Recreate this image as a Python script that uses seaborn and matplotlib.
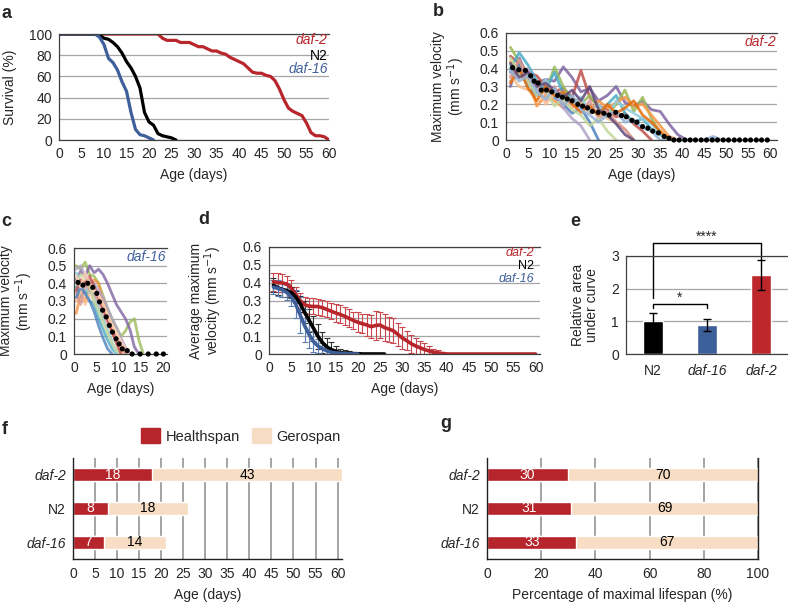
import matplotlib
matplotlib.use("Agg")
import matplotlib.pyplot as plt
import matplotlib.ticker as mt
from matplotlib.patches import Patch
import seaborn as sns

sns.set_style("white")
plt.rcParams["font.family"] = ["Liberation Sans", "DejaVu Sans"]
plt.rcParams["font.size"] = 10

W, H = 788, 604
RED = "#B8262C"
BLUE = "#3F5F9B"
BEIGE = "#F7DDC4"
GRID = "#A6A6A6"
DARK = "#404040"

# a: survival (%), one value per day
surv_days = list(range(61))
surv_daf2 = [100, 100, 100, 100, 100, 100, 100, 100, 100, 100,
             100, 100, 100, 100, 100, 100, 100, 100, 100, 100,
             100, 100, 100, 96, 94, 94, 94, 92, 92, 92,
             90, 88, 88, 86, 84, 84, 82, 81, 78, 76,
             74, 72, 68, 64, 63, 63, 61, 60, 56, 48,
             38, 30, 27, 25, 23, 16, 7, 4, 4, 3, 0]
surv_n2 = [100, 100, 100, 100, 100, 100, 100, 100, 100, 99,
           96, 95, 92, 88, 82, 74, 68, 60, 49, 26,
           17, 14, 6, 4, 3, 2, 0]
surv_daf16 = [100, 100, 100, 100, 100, 100, 100, 100, 100, 97,
              90, 77, 73, 66, 55, 46, 26, 10, 5, 4, 2, 0]

# b: daf-2 individual worms (every 2 days from day 1) and population mean
b_days = [1, 3, 5, 7, 9, 11, 13, 15, 17, 19, 21, 23, 25, 27, 29,
          31, 33, 35, 37, 39, 41, 43, 45, 47, 49]
b_traces = [
    [0.30, 0.46, 0.35, 0.32, 0.34, 0.33, 0.41, 0.35, 0.27, 0.29, 0.22, 0.25, 0.30, 0.21, 0.19, 0.22, 0.17, 0.16, 0.09, 0.03, 0.0],
    [0.47, 0.43, 0.38, 0.36, 0.30, 0.27, 0.29, 0.24, 0.39, 0.24, 0.19, 0.17, 0.13, 0.15, 0.09, 0.05, 0.0],
    [0.52, 0.44, 0.36, 0.30, 0.27, 0.41, 0.30, 0.22, 0.20, 0.25, 0.18, 0.14, 0.20, 0.28, 0.16, 0.24, 0.12, 0.04, 0.0],
    [0.40, 0.49, 0.42, 0.33, 0.28, 0.38, 0.26, 0.24, 0.20, 0.18, 0.14, 0.20, 0.25, 0.15, 0.10, 0.12, 0.06, 0.03, 0.0],
    [0.44, 0.40, 0.34, 0.19, 0.25, 0.22, 0.18, 0.24, 0.20, 0.16, 0.22, 0.18, 0.21, 0.24, 0.19, 0.20, 0.14, 0.08, 0.02, 0.0],
    [0.38, 0.42, 0.30, 0.25, 0.30, 0.24, 0.20, 0.15, 0.18, 0.10, 0.0],
    [0.33, 0.36, 0.40, 0.28, 0.22, 0.26, 0.18, 0.12, 0.08, 0.0],
    [0.36, 0.30, 0.28, 0.33, 0.20, 0.26, 0.22, 0.18, 0.21, 0.15, 0.17, 0.12, 0.10, 0.06, 0.0],
    [0.42, 0.38, 0.31, 0.28, 0.34, 0.26, 0.22, 0.20, 0.24, 0.16, 0.20, 0.13, 0.22, 0.18, 0.15, 0.12, 0.09, 0.04, 0.0],
    [0.35, 0.45, 0.33, 0.30, 0.26, 0.30, 0.20, 0.21, 0.15, 0.22, 0.12, 0.16, 0.10, 0.06, 0.0],
    [0.46, 0.37, 0.33, 0.25, 0.28, 0.19, 0.23, 0.17, 0.14, 0.08, 0.12, 0.05, 0.0],
    [0.32, 0.40, 0.29, 0.22, 0.30, 0.25, 0.27, 0.20, 0.16, 0.19, 0.14, 0.20, 0.15, 0.18, 0.22, 0.14, 0.10, 0.05, 0.0],
    [0.43, 0.35, 0.38, 0.30, 0.32, 0.28, 0.24, 0.28, 0.22, 0.30, 0.17, 0.14, 0.09, 0.03, 0.0],
    [0.39, 0.33, 0.36, 0.27, 0.23, 0.29, 0.19, 0.25, 0.17, 0.14, 0.10, 0.14, 0.16, 0.10, 0.11, 0.07, 0.05, 0.0, 0.0, 0.0, 0.0, 0.0, 0.0, 0.02, 0.0],
]
worm_colors = ["#8064A2", "#C0504D", "#9BBB59", "#4BACC6", "#F79646", "#4F81BD", "#B3A2C7",
               "#FAC090", "#93CDDD", "#D99694", "#C3D69B", "#E46C0A", "#604A7B", "#95B3D7"]
b_mean_day = [1.5, 2.9, 4.4, 5.6, 6.4, 7.3, 8.0, 9.2, 10.4, 11.7, 12.8, 13.9, 15.0, 16.3, 17.4,
              18.5, 19.6, 20.9, 22.2, 23.4, 24.9, 26.2, 27.3, 28.6, 29.7, 31.0, 32.2, 33.3, 34.6,
              35.9, 37.0, 38.1, 39.3, 40.6, 41.8, 43.0, 44.3, 45.5, 46.8, 48.0, 49.3, 50.5, 51.8,
              53.0, 54.3, 55.5, 56.8, 58.0, 59.3]
b_mean_vel = [0.406, 0.394, 0.39, 0.36, 0.33, 0.32, 0.28, 0.28, 0.27, 0.25, 0.24, 0.23, 0.22, 0.20, 0.19,
              0.18, 0.16, 0.155, 0.15, 0.14, 0.155, 0.137, 0.13, 0.11, 0.10, 0.075, 0.066, 0.05, 0.04,
              0.02, 0.01, 0.0, 0.0, 0.0, 0.0, 0.0, 0.0, 0.0, 0.0, 0.0, 0.0, 0.0, 0.0,
              0.0, 0.0, 0.0, 0.0, 0.0, 0.0]

# c: daf-16 individual worms (daily) and population mean
c_days = [0.5, 1.5, 2.5, 3.5, 4.5, 5.5, 6.5, 7.5, 8.5, 9.5, 10.5, 11.5, 12.5, 13.5, 14.5, 15.5]
c_traces = [
    [0.50, 0.48, 0.52, 0.45, 0.44, 0.40, 0.33, 0.26, 0.20, 0.15, 0.10, 0.13, 0.18, 0.20, 0.08, 0.0],
    [0.42, 0.47, 0.44, 0.50, 0.46, 0.48, 0.45, 0.40, 0.34, 0.28, 0.24, 0.20, 0.14, 0.04, 0.0],
    [0.23, 0.34, 0.30, 0.38, 0.42, 0.40, 0.30, 0.22, 0.16, 0.10, 0.05, 0.0],
    [0.38, 0.33, 0.36, 0.30, 0.28, 0.20, 0.14, 0.08, 0.03, 0.0],
    [0.30, 0.36, 0.28, 0.35, 0.30, 0.26, 0.22, 0.18, 0.12, 0.08, 0.02, 0.0],
    [0.46, 0.40, 0.38, 0.35, 0.33, 0.26, 0.20, 0.14, 0.07, 0.0],
    [0.35, 0.28, 0.40, 0.36, 0.34, 0.30, 0.24, 0.18, 0.14, 0.10, 0.06, 0.0],
    [0.48, 0.50, 0.44, 0.42, 0.40, 0.36, 0.32, 0.26, 0.20, 0.15, 0.09, 0.04, 0.0],
    [0.32, 0.38, 0.34, 0.30, 0.24, 0.16, 0.09, 0.03, 0.0],
    [0.40, 0.45, 0.42, 0.38, 0.30, 0.24, 0.18, 0.12, 0.06, 0.02, 0.0],
    [0.36, 0.42, 0.40, 0.44, 0.38, 0.32, 0.26, 0.20, 0.13, 0.06, 0.0],
    [0.44, 0.38, 0.46, 0.40, 0.36, 0.33, 0.28, 0.22, 0.16, 0.12, 0.07, 0.03, 0.0],
]
c_colors = ["#9BBB59", "#8064A2", "#F79646", "#4BACC6", "#FAC090", "#93CDDD",
            "#D99694", "#B3A2C7", "#4F81BD", "#C3D69B", "#C0504D", "#FCD5B5"]
c_mean_day = [0.9, 2.0, 3.1, 4.2, 5.1, 5.7, 6.4, 7.2, 7.9, 8.6, 9.4, 10.1, 10.8, 11.9,
              13.0, 14.8, 16.6, 18.4, 20.0]
c_mean_vel = [0.405, 0.39, 0.40, 0.377, 0.343, 0.295, 0.248, 0.21, 0.162, 0.124, 0.086,
              0.057, 0.029, 0.019, 0.0, 0.0, 0.0, 0.0, 0.0]

# d: average maximum velocity +/- error, daily
d_days = list(range(1, 61))
d_daf2 = [0.405, 0.40, 0.398, 0.393, 0.37, 0.335, 0.30, 0.277, 0.268, 0.267,
          0.266, 0.26, 0.25, 0.24, 0.23, 0.222, 0.212, 0.20, 0.188, 0.178,
          0.17, 0.163, 0.153, 0.16, 0.163, 0.148, 0.14, 0.13, 0.11, 0.09,
          0.075, 0.058, 0.045, 0.035, 0.025, 0.017, 0.01, 0.006, 0.003, 0.0,
          0.0, 0.0, 0.0, 0.0, 0.0, 0.0, 0.0, 0.0, 0.0, 0.0,
          0.0, 0.0, 0.0, 0.0, 0.0, 0.0, 0.0, 0.0, 0.0, 0.0]
d_daf2_err = [0.05, 0.055, 0.05, 0.045, 0.045, 0.04, 0.04, 0.045, 0.045, 0.045,
              0.045, 0.045, 0.045, 0.045, 0.05, 0.05, 0.05, 0.05, 0.05, 0.055,
              0.055, 0.06, 0.065, 0.08, 0.075, 0.075, 0.07, 0.07, 0.065, 0.06,
              0.055, 0.05, 0.045, 0.04, 0.035, 0.03, 0.02, 0.015, 0.01, 0.005]
d_n2 = [0.385, 0.372, 0.362, 0.356, 0.345, 0.32, 0.283, 0.235, 0.19, 0.145,
        0.10, 0.065, 0.04, 0.025, 0.015, 0.008, 0.005, 0.003, 0.002, 0.001,
        0.0, 0.0, 0.0, 0.0, 0.0, 0.0]
d_n2_err = [0.04, 0.04, 0.04, 0.035, 0.03, 0.035, 0.045, 0.06, 0.065, 0.07,
            0.07, 0.06, 0.05, 0.04, 0.03, 0.02, 0.015, 0.012, 0.01, 0.008,
            0.005, 0.004, 0.003]
d_daf16 = [0.375, 0.368, 0.36, 0.345, 0.32, 0.28, 0.22, 0.16, 0.11, 0.07,
           0.045, 0.03, 0.018, 0.01, 0.006, 0.004, 0.002, 0.001, 0.0, 0.0]
d_daf16_err = [0.04, 0.045, 0.04, 0.04, 0.05, 0.08, 0.10, 0.09, 0.075, 0.06,
               0.04, 0.03, 0.02, 0.015, 0.01, 0.008, 0.005, 0.004]

# e: relative area under curve
e_geno = ["N2", "daf-16", "daf-2"]
e_auc = [1.0, 0.89, 2.42]
e_err = [0.25, 0.18, 0.45]

# f, g: healthspan / gerospan
fg_geno = ["daf-2", "N2", "daf-16"]
f_health = [18, 8, 7]
f_gero = [43, 18, 14]
g_health = [30, 31, 33]
g_gero = [70, 69, 67]


def rect(l, t, r, b):
    return [l / W, 1 - b / H, (r - l) / W, (b - t) / H]


def vel_fmt(v, pos):
    return "0" if abs(v) < 1e-9 else f"{v:.1f}"


def excel_axes(ax, xmax, ymax, ystep, fmt=None):
    ax.set_xlim(0, xmax)
    ax.set_ylim(0, ymax)
    ax.xaxis.set_major_locator(mt.MultipleLocator(5))
    ax.xaxis.set_minor_locator(mt.MultipleLocator(1))
    ax.yaxis.set_major_locator(mt.MultipleLocator(ystep))
    if fmt is not None:
        ax.yaxis.set_major_formatter(mt.FuncFormatter(fmt))
    ax.grid(axis="y", color=GRID, lw=0.9)
    ax.set_axisbelow(True)
    ax.spines["right"].set_visible(False)
    for s in ("top", "left", "bottom"):
        ax.spines[s].set_color(DARK)
        ax.spines[s].set_linewidth(0.9)
    ax.tick_params(which="both", direction="out", length=3, width=0.8,
                   pad=2, labelsize=10, color=DARK)
    ax.set_xlabel("Age (days)", fontsize=10, labelpad=5)


fig = plt.figure(figsize=(W / 100, H / 100), dpi=100)

# ---------------- a
ax = fig.add_axes(rect(59, 34, 329, 140))
sns.lineplot(x=surv_days[:len(surv_daf2)], y=surv_daf2, color=RED, lw=2.3, ax=ax)
sns.lineplot(x=surv_days[:len(surv_n2)], y=surv_n2, color="black", lw=2.3, ax=ax)
sns.lineplot(x=surv_days[:len(surv_daf16)], y=surv_daf16, color=BLUE, lw=2.3, ax=ax)
excel_axes(ax, 60, 100, 20)
ax.set_ylabel("Survival (%)", fontsize=10)
ax.yaxis.set_label_coords(-0.155, 0.5)
ax.text(0.995, 0.945, "daf-2", transform=ax.transAxes, ha="right", va="center", color=RED, style="italic")
ax.text(0.995, 0.795, "N2", transform=ax.transAxes, ha="right", va="center", color="black")
ax.text(0.995, 0.67, "daf-16", transform=ax.transAxes, ha="right", va="center", color=BLUE, style="italic")

# ---------------- b
ax = fig.add_axes(rect(506, 33, 777, 140))
for tr, col in zip(b_traces, worm_colors):
    sns.lineplot(x=b_days[:len(tr)], y=tr, color=col, lw=2.0, alpha=0.85, ax=ax)
sns.scatterplot(x=b_mean_day, y=b_mean_vel, color="black", s=14, edgecolor="none", ax=ax, clip_on=False, zorder=5)
excel_axes(ax, 61.5, 0.6, 0.1, vel_fmt)
ax.set_ylabel("Maximum velocity\n(mm s$^{-1}$)", fontsize=10, linespacing=1.0)
ax.yaxis.set_label_coords(-0.145, 0.5)
ax.text(0.998, 0.916, "daf-2", transform=ax.transAxes, ha="right", va="center", color=RED, style="italic")

# ---------------- c
ax = fig.add_axes(rect(74, 248, 167, 354))
for tr, col in zip(c_traces, c_colors):
    sns.lineplot(x=c_days[:len(tr)], y=tr, color=col, lw=2.0, alpha=0.8, ax=ax)
sns.scatterplot(x=c_mean_day, y=c_mean_vel, color="black", s=14, edgecolor="none", ax=ax, clip_on=False, zorder=5)
excel_axes(ax, 20.8, 0.6, 0.1, vel_fmt)
ax.set_ylabel("Maximum velocity\n(mm s$^{-1}$)", fontsize=10, linespacing=1.0)
ax.yaxis.set_label_coords(-0.42, 0.5)
ax.text(0.99, 0.915, "daf-16", transform=ax.transAxes, ha="right", va="center", color=BLUE, style="italic")

# ---------------- d
ax = fig.add_axes(rect(269, 247, 540, 354))
ax.errorbar(d_days[:len(d_daf2_err)], d_daf2[:len(d_daf2_err)], yerr=d_daf2_err, fmt="none",
            ecolor="#C9474D", elinewidth=0.8, capsize=2, capthick=0.8)
ax.errorbar(d_days[:len(d_n2_err)], d_n2[:len(d_n2_err)], yerr=d_n2_err, fmt="none",
            ecolor="#333333", elinewidth=0.8, capsize=2, capthick=0.8)
ax.errorbar(d_days[:len(d_daf16_err)], d_daf16[:len(d_daf16_err)], yerr=d_daf16_err, fmt="none",
            ecolor="#5B7DB5", elinewidth=0.8, capsize=2, capthick=0.8)
sns.lineplot(x=d_days[:len(d_daf2)], y=d_daf2, color=RED, lw=2.6, ax=ax)
sns.lineplot(x=d_days[:len(d_n2)], y=d_n2, color="black", lw=2.6, ax=ax)
sns.lineplot(x=d_days[:len(d_daf16)], y=d_daf16, color=BLUE, lw=2.6, ax=ax)
excel_axes(ax, 61, 0.6, 0.1, vel_fmt)
ax.set_ylabel("Average maximum\nvelocity (mm s$^{-1}$)", fontsize=10, linespacing=1.0)
ax.yaxis.set_label_coords(-0.165, 0.5)
ax.text(0.978, 0.94, "daf-2", transform=ax.transAxes, ha="right", va="center", color=RED, style="italic", fontsize=9)
ax.text(0.978, 0.82, "N2", transform=ax.transAxes, ha="right", va="center", color="black", fontsize=9)
ax.text(0.978, 0.705, "daf-16", transform=ax.transAxes, ha="right", va="center", color=BLUE, style="italic", fontsize=9)

# ---------------- e
ax = fig.add_axes(rect(626, 256, 788, 354))
sns.barplot(x=e_geno, y=e_auc, hue=e_geno, palette=["black", "#3D5F9A", "#BE282D"],
            saturation=1, width=0.37, legend=False, ax=ax)
ax.errorbar(list(range(len(e_geno))), e_auc, yerr=e_err, fmt="none", ecolor="black",
            elinewidth=1, capsize=3, capthick=1)
ax.set_xlim(-0.5, 2.5)
ax.set_ylim(0, 3)
ax.yaxis.set_major_locator(mt.MultipleLocator(1))
ax.grid(axis="y", color=GRID, lw=0.9)
ax.set_axisbelow(True)
ax.spines["right"].set_visible(False)
for s in ("top", "left", "bottom"):
    ax.spines[s].set_color(DARK)
    ax.spines[s].set_linewidth(0.9)
ax.tick_params(axis="y", direction="out", length=3, width=0.8, pad=2, labelsize=10, color=DARK)
ax.tick_params(axis="x", length=0, pad=7, labelsize=10)
for lab in ax.get_xticklabels():
    if lab.get_text().startswith("daf"):
        lab.set_style("italic")
ax.set_ylabel("Relative area\nunder curve", fontsize=10, linespacing=1.0)
ax.yaxis.set_label_coords(-0.167, 0.5)
ax.plot([0, 0, 2, 2], [1.71, 3.4, 3.4, 2.88], color="black", lw=1, clip_on=False)
ax.plot([0, 0, 1, 1], [1.41, 1.53, 1.53, 1.41], color="black", lw=1, clip_on=False)
ax.text(1, 3.6, "****", ha="center", va="center", fontsize=10)
ax.text(0.5, 1.72, "*", ha="center", va="center", fontsize=10)


# ---------------- f, g
def span_axes(ax, health, gero, xmax, step, dark_right):
    total = [h + g for h, g in zip(health, gero)]
    sns.barplot(x=total, y=fg_geno, color=BEIGE, saturation=1, width=0.38, orient="h", ax=ax)
    sns.barplot(x=health, y=fg_geno, color="#B5252B", saturation=1, width=0.38, orient="h", ax=ax)
    for i, (h, g) in enumerate(zip(health, gero)):
        ax.text(h / 2, i, str(h), color="white", ha="center", va="center", fontsize=10)
        ax.text(h + g / 2, i, str(g), color="black", ha="center", va="center", fontsize=10)
    ax.set_xlim(0, xmax)
    ax.set_ylim(2.5, -0.5)
    ax.xaxis.set_major_locator(mt.MultipleLocator(step))
    ax.grid(axis="x", color="#8C8C8C", lw=1.1)
    ax.set_axisbelow(True)
    ax.spines["top"].set_visible(False)
    ax.spines["right"].set_visible(dark_right)
    for s in ("left", "bottom", "right"):
        ax.spines[s].set_color("#222222")
        ax.spines[s].set_linewidth(1.0)
    ax.tick_params(axis="x", direction="out", length=4, width=0.9, pad=2, labelsize=10, color="#222222")
    ax.tick_params(axis="y", length=0, pad=5, labelsize=10)
    for lab in ax.get_yticklabels():
        if lab.get_text().startswith("daf"):
            lab.set_style("italic")


ax = fig.add_axes(rect(73, 458, 342, 559))
span_axes(ax, f_health, f_gero, 61, 5, False)
ax.set_xlabel("Age (days)", fontsize=10, labelpad=5)

ax = fig.add_axes(rect(487, 458, 758, 559))
span_axes(ax, g_health, g_gero, 100, 20, True)
ax.set_xlabel("Percentage of maximal lifespan (%)", fontsize=10, labelpad=5)

fig.legend(handles=[Patch(color="#B5252B", label="Healthspan"), Patch(color=BEIGE, label="Gerospan")],
           ncol=2, loc="center", bbox_to_anchor=(241 / W, 1 - 436 / H), frameon=False, fontsize=10.5,
           handlelength=1.3, handleheight=1.2, columnspacing=0.8, handletextpad=0.4)

# panel letters
for letter, x, y in [("a", 2, 13), ("b", 433, 12), ("c", 1, 222), ("d", 198, 220),
                     ("e", 570, 221), ("f", 2, 430), ("g", 440, 424)]:
    fig.text(x / W, 1 - y / H, letter, fontsize=13, fontweight="bold", ha="left", va="center")

fig.savefig("out.png", dpi=100)
